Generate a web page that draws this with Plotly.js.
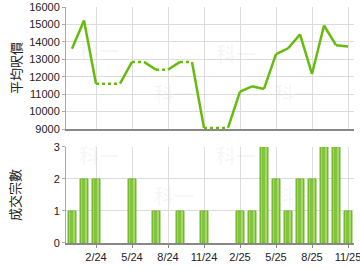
<!DOCTYPE html>
<html><head><meta charset="utf-8">
<script src="https://cdn.plot.ly/plotly-3.0.1.min.js"></script>
<style>html,body{margin:0;padding:0;background:#fff}#c{width:360px;height:270px}</style>
</head><body><div id="c"></div>
<script>
const months = ['12/23','1/24','2/24','3/24','4/24','5/24','6/24','7/24','8/24','9/24','10/24','11/24',
  '12/24','1/25','2/25','3/25','4/25','5/25','6/25','7/25','8/25','9/25','10/25','11/25'];
const avgPrice = [13600,15230,11600,null,null,12850,null,12400,null,12850,null,9060,
  null,null,11150,11450,11300,13300,13620,14430,12160,14940,13810,13740];
const dealCount = [1,2,2,0,0,2,0,1,0,1,0,1,0,0,1,1,3,2,1,2,2,3,3,1];
const tickLabels = ['2/24','5/24','8/24','11/24','2/25','5/25','8/25','11/25'];
const priceTitle = '平均呎價';
const countTitle = '成交宗數';

const idx = months.map((m,i)=>i);
const tickVals = tickLabels.map(t=>months.indexOf(t));
const barY = dealCount.map(v=>v>0?v:null);
// carry forward price for months without deals
const filled = []; let last = null;
avgPrice.forEach((v,i)=>{ if(v!==null) last=v; filled.push(last); });
const sx=[],sy=[],dx=[],dy=[];
for(let i=0;i<months.length-1;i++){
  const tx = avgPrice[i+1]!==null ? [sx,sy] : [dx,dy];
  tx[0].push(idx[i],idx[i+1],null); tx[1].push(filled[i],filled[i+1],null);
}
const green='#66bb0c';
const traces=[
  {x:sx,y:sy,type:'scatter',mode:'lines',line:{color:green,width:2.5},xaxis:'x2',yaxis:'y2',hoverinfo:'skip',connectgaps:false},
  {x:dx,y:dy,type:'scatter',mode:'lines',line:{color:green,width:2.5,dash:'dot'},xaxis:'x2',yaxis:'y2',hoverinfo:'skip',connectgaps:false},
  {x:idx,y:barY,type:'bar',width:0.66,marker:{color:'#82c43a',line:{color:'#66b020',width:1}},xaxis:'x',yaxis:'y'},
  {x:idx,y:barY,type:'bar',width:0.2,offset:0.06,marker:{color:'#a4d86a',line:{width:0}},xaxis:'x',yaxis:'y'},
  {x:idx,y:barY,type:'bar',width:0.1,offset:-0.26,marker:{color:'#9fd465',line:{width:0}},xaxis:'x',yaxis:'y'}
];
const tf={family:'Liberation Sans, Arial, sans-serif',size:11,color:'#222'};
const L=66,R=6,T=7,B=27,W=360-L-R,H=270-T-B;
const wm=[[77,34],[152,93],[236,37],[316,93],[77,155],[152,212],[236,155],[316,212]].map(p=>({
  text:'科一',x:(p[0]-L)/W,y:(270-B-p[1])/H,xref:'paper',yref:'paper',showarrow:false,
  font:{family:'Noto Sans CJK TC',size:20,color:'rgba(180,180,180,0.12)'}}));
const layout={
  width:360,height:270,margin:{l:L,r:R,t:T,b:B},showlegend:false,
  paper_bgcolor:'#fff',plot_bgcolor:'#fff',bargap:0,barmode:'overlay',
  xaxis:{domain:[0,1],anchor:'y',range:[-0.5,23.5],tickvals:tickVals,ticktext:tickLabels,tickfont:tf,ticklabeloverflow:'allow',
    showgrid:true,gridcolor:'#dcdcdc',showline:true,linecolor:'#888',linewidth:1.5,ticks:'outside',ticklen:3,tickcolor:'#888',zeroline:false},
  yaxis:{domain:[0,0.4068],range:[0,3],dtick:1,tickfont:tf,showgrid:true,gridcolor:'#dcdcdc',showline:true,linecolor:'#aaa',
    ticks:'outside',ticklen:3,tickcolor:'#aaa',zeroline:false},
  xaxis2:{domain:[0,1],anchor:'y2',range:[-0.5,23.5],tickvals:tickVals,showticklabels:false,
    showgrid:true,gridcolor:'#dcdcdc',showline:true,linecolor:'#888',linewidth:1.5,zeroline:false},
  yaxis2:{domain:[0.483,1],range:[9000,16000],dtick:1000,tickfont:tf,showgrid:true,gridcolor:'#dcdcdc',showline:true,linecolor:'#aaa',
    ticks:'outside',ticklen:3,tickcolor:'#aaa',zeroline:false,tickformat:'d'},
  annotations:wm.concat([
    {text:priceTitle,textangle:-90,x:0,y:0.7415,xref:'paper',yref:'paper',xanchor:'center',yanchor:'middle',xshift:-51,showarrow:false,
     font:{family:'Noto Sans CJK TC',size:13,color:'#222'}},
    {text:countTitle,textangle:-90,x:0,y:0.2034,xref:'paper',yref:'paper',xanchor:'center',yanchor:'middle',xshift:-51,showarrow:false,
     font:{family:'Noto Sans CJK TC',size:13,color:'#222'}}
  ])
};
Plotly.newPlot('c',traces,layout,{staticPlot:true,displayModeBar:false});
</script></body></html>
